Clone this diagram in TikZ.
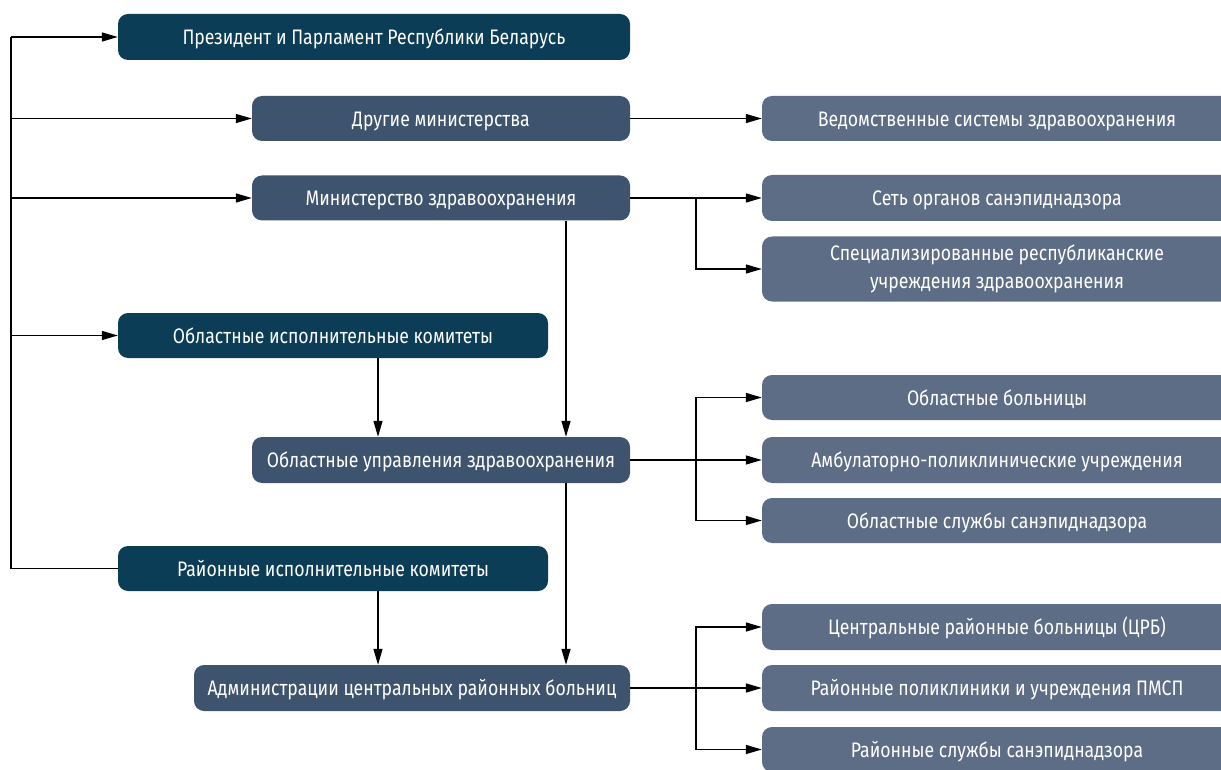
\documentclass[tikz,border=0pt]{standalone}
\usepackage{fontspec}
\setmainfont[FakeStretch=0.84]{Fira Sans}
\usetikzlibrary{arrows.meta}
\definecolor{cdark}{HTML}{0B3D57}
\definecolor{cmed}{HTML}{3E546E}
\definecolor{clight}{HTML}{5E6D86}
\tikzset{
  box/.style={rounded corners=10pt, inner sep=0pt, text=white, align=center,
    text height=19.5pt, text depth=4pt,
    font=\fontsize{21}{27}\selectfont},
  darkbox/.style={box, fill=cdark},
  medbox/.style={box, fill=cmed},
  lightbox/.style={box, fill=clight, minimum width=470pt},
  twoline/.style={text height=, text depth=, font=\fontsize{21}{28}\selectfont},
  arr/.style={line width=1.4pt, -{Triangle[length=16pt,width=9pt]}},
  ln/.style={line width=1.4pt},
}
\begin{document}
\begin{tikzpicture}[x=1pt,y=-1pt]
\useasboundingbox (0,0) rectangle (1221,770);
\clip (0,0) rectangle (1221,770);
% left column
\node[darkbox, minimum width=512pt, minimum height=46pt] (pres) at (374,37) {Президент и Парламент Республики Беларусь};
\node[medbox, minimum width=378pt, minimum height=45pt] (drug) at (441,118.5) {Другие министерства};
\node[medbox, minimum width=378pt, minimum height=45pt] (min) at (441,198) {Министерство здравоохранения};
\node[darkbox, minimum width=430pt, minimum height=45pt] (oblisp) at (333,335.5) {Областные исполнительные комитеты};
\node[medbox, minimum width=378pt, minimum height=46pt] (oblupr) at (441,460) {Областные управления здравоохранения};
\node[darkbox, minimum width=430pt, minimum height=45pt] (rayisp) at (333,568.5) {Районные исполнительные комитеты};
\node[medbox, minimum width=436pt, minimum height=46pt] (adm) at (412,688) {Администрации центральных районных больниц};
% right column
\node[lightbox, minimum height=45pt] (ved) at (997,118.5) {Ведомственные системы здравоохранения};
\node[lightbox, minimum height=46pt] (set) at (997,198) {Сеть органов санэпиднадзора};
\node[lightbox, twoline, minimum height=65pt] (spec) at (997,269) {Специализированные республиканские\\учреждения здравоохранения};
\node[lightbox, minimum height=45pt] (oblbol) at (997,397.5) {Областные больницы};
\node[lightbox, minimum height=46pt] (amb) at (997,460) {Амбулаторно-поликлинические учреждения};
\node[lightbox, minimum height=45pt] (oblsl) at (997,520.5) {Областные службы санэпиднадзора};
\node[lightbox, minimum height=46pt] (crb) at (997,627) {Центральные районные больницы (ЦРБ)};
\node[lightbox, minimum height=46pt] (pmsp) at (997,688) {Районные поликлиники и учреждения ПМСП};
\node[lightbox, minimum height=45pt] (raysl) at (997,749.5) {Районные службы санэпиднадзора};
% helper coordinates
\coordinate (b) at (11,0);
\coordinate (j) at (696,0);
\coordinate (v1) at ([xshift=45pt]oblisp.south);
\coordinate (v2) at ([xshift=125pt]min.south);
\coordinate (v3) at ([xshift=125pt]oblupr.south);
\coordinate (v4) at ([xshift=45pt]rayisp.south);
% left bus
\draw[ln] (rayisp.west) -- (rayisp.west -| b) -- (pres.west -| b);
\draw[arr] (pres.west -| b) -- (pres.west);
\draw[arr] (drug.west -| b) -- (drug.west);
\draw[arr] (min.west -| b) -- (min.west);
\draw[arr] (oblisp.west -| b) -- (oblisp.west);
% vertical
\draw[arr] (v1) -- (v1 |- oblupr.north);
\draw[arr] (v2) -- (v2 |- oblupr.north);
\draw[arr] (v3) -- (v3 |- adm.north);
\draw[arr] (v4) -- (v4 |- adm.north);
% right branches
\draw[arr] (drug.east) -- (ved.west);
\draw[arr] (min.east) -- (set.west);
\draw[arr] (min.east -| j) |- (spec.west);
\draw[arr] (oblupr.east) -- (amb.west);
\draw[arr] (oblupr.east -| j) |- (oblbol.west);
\draw[arr] (oblupr.east -| j) |- (oblsl.west);
\draw[arr] (adm.east) -- (pmsp.west);
\draw[arr] (adm.east -| j) |- (crb.west);
\draw[arr] (adm.east -| j) |- (raysl.west);
\end{tikzpicture}
\end{document}
